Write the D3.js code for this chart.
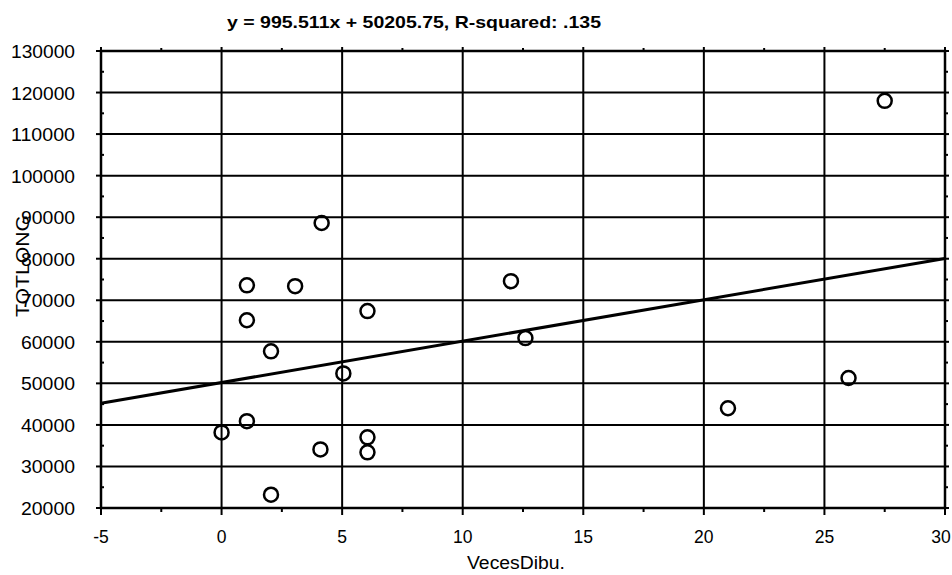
<!DOCTYPE html>
<html>
<head>
<meta charset="utf-8">
<script src="https://cdn.jsdelivr.net/npm/d3@7"></script>
<style>
body { margin: 0; background: #fff; }
svg { display: block; font-family: "Liberation Sans", Arial, sans-serif; }
</style>
</head>
<body>
<svg width="952" height="575"></svg>
<script>
// valores
var vecesDibu = [4.15, 1.05, 3.05, 1.05, 6.05, 12, 2.05, 12.6, 5.05, 1.05, 0, 4.1, 6.05, 6.05, 2.05, 21, 26, 27.5];
var totLong = [88600, 73600, 73400, 65200, 67400, 74600, 57700, 60900, 52400, 40900, 38200, 34100, 37000, 33400, 23200, 44000, 51300, 118000];
var xTicks = [-5, 0, 5, 10, 15, 20, 25, 30];
var yTicks = [20000, 30000, 40000, 50000, 60000, 70000, 80000, 90000, 100000, 110000, 120000, 130000];
var slope = 995.511, intercept = 50205.75;
var titleText = "y = 995.511x + 50205.75, R-squared: .135";

function drawChart() {
    var pLeft = 101, pRight = 945, pTop = 51, pBottom = 508;

    var svg = d3.select("svg");

    var x = d3.scaleLinear().domain([-5, 30]).range([pLeft, pRight]);
    var y = d3.scaleLinear().domain([20000, 130000]).range([pBottom, pTop]);

    var xMinor = d3.range(-5, 30.01, 2.5);
    var yMinor = d3.range(20000, 130001, 5000);

    // rejilla
    svg.append("g").selectAll("line")
        .data(yTicks)
        .enter().append("line")
        .attr("x1", pLeft).attr("x2", pRight)
        .attr("y1", function (d) { return y(d); })
        .attr("y2", function (d) { return y(d); })
        .attr("stroke", "#000").attr("stroke-width", 2);

    svg.append("g").selectAll("line")
        .data(xTicks)
        .enter().append("line")
        .attr("y1", pTop).attr("y2", pBottom)
        .attr("x1", function (d) { return x(d); })
        .attr("x2", function (d) { return x(d); })
        .attr("stroke", "#000").attr("stroke-width", 2);

    // marco y marcas
    var ax = svg.append("g").attr("stroke", "#000");
    ax.append("rect")
        .attr("x", pLeft).attr("y", pTop)
        .attr("width", pRight - pLeft).attr("height", pBottom - pTop)
        .attr("fill", "none").attr("stroke-width", 2.5);

    ax.append("g").selectAll("line").data(xMinor).enter().append("line")
        .attr("x1", function (d) { return x(d); }).attr("x2", function (d) { return x(d); })
        .attr("y1", pBottom).attr("y2", function (d, i) { return pBottom + (i % 2 ? 4 : 7); })
        .attr("stroke-width", 2);
    ax.append("g").selectAll("line").data(xMinor).enter().append("line")
        .attr("x1", function (d) { return x(d); }).attr("x2", function (d) { return x(d); })
        .attr("y1", pTop).attr("y2", function (d, i) { return pTop - (i % 2 ? 3 : 4); })
        .attr("stroke-width", 2);
    ax.append("g").selectAll("line").data(yMinor).enter().append("line")
        .attr("y1", function (d) { return y(d); }).attr("y2", function (d) { return y(d); })
        .attr("x1", function (d, i) { return i % 2 ? pLeft + 3 : pLeft - 5; }).attr("x2", pLeft)
        .attr("stroke-width", 2);
    ax.append("g").selectAll("line").data(yMinor).enter().append("line")
        .attr("y1", function (d) { return y(d); }).attr("y2", function (d) { return y(d); })
        .attr("x1", pRight).attr("x2", function (d, i) { return pRight + (i % 2 ? 3 : 4); })
        .attr("stroke-width", 2);

    // etiquetas de los ejes
    svg.append("g").selectAll("text")
        .data(xTicks).enter().append("text")
        .attr("x", function (d) { return d === 30 ? x(d) - 4 : x(d); })
        .attr("y", 543)
        .attr("text-anchor", "middle")
        .attr("font-size", 17.5)
        .text(function (d) { return d; });

    svg.append("g").selectAll("text")
        .data(yTicks).enter().append("text")
        .attr("x", 75)
        .attr("y", function (d) { return y(d) + 7; })
        .attr("text-anchor", "end")
        .attr("font-size", 18.5)
        .attr("textLength", function (d) { return d >= 100000 ? 64 : 54; })
        .attr("lengthAdjust", "spacingAndGlyphs")
        .text(function (d) { return d; });

    svg.append("text")
        .attr("x", 516).attr("y", 569)
        .attr("text-anchor", "middle")
        .attr("font-size", 18)
        .attr("textLength", 98)
        .attr("lengthAdjust", "spacingAndGlyphs")
        .text("VecesDibu.");

    svg.append("text")
        .attr("transform", "translate(29,266) rotate(-90)")
        .attr("text-anchor", "middle")
        .attr("font-size", 19)
        .attr("textLength", 102)
        .attr("lengthAdjust", "spacingAndGlyphs")
        .text("TOTLONG");

    svg.append("text")
        .attr("x", 227).attr("y", 28)
        .attr("font-size", 17)
        .attr("font-weight", "bold")
        .attr("textLength", 374)
        .attr("lengthAdjust", "spacingAndGlyphs")
        .text(titleText);

    // recta de regresion
    var line = d3.line()
        .x(function (d) { return x(d); })
        .y(function (d) { return y(slope * d + intercept); });
    svg.append("path")
        .datum([-5, 30])
        .attr("d", line)
        .attr("fill", "none")
        .attr("stroke", "#000")
        .attr("stroke-width", 3);

    // puntos
    svg.append("g").selectAll("circle")
        .data(vecesDibu).enter().append("circle")
        .attr("cx", function (d) { return x(d); })
        .attr("cy", function (d, i) { return y(totLong[i]); })
        .attr("r", 7)
        .attr("fill", "none")
        .attr("stroke", "#000")
        .attr("stroke-width", 2.5);
}

drawChart();
</script>
</body>
</html>
